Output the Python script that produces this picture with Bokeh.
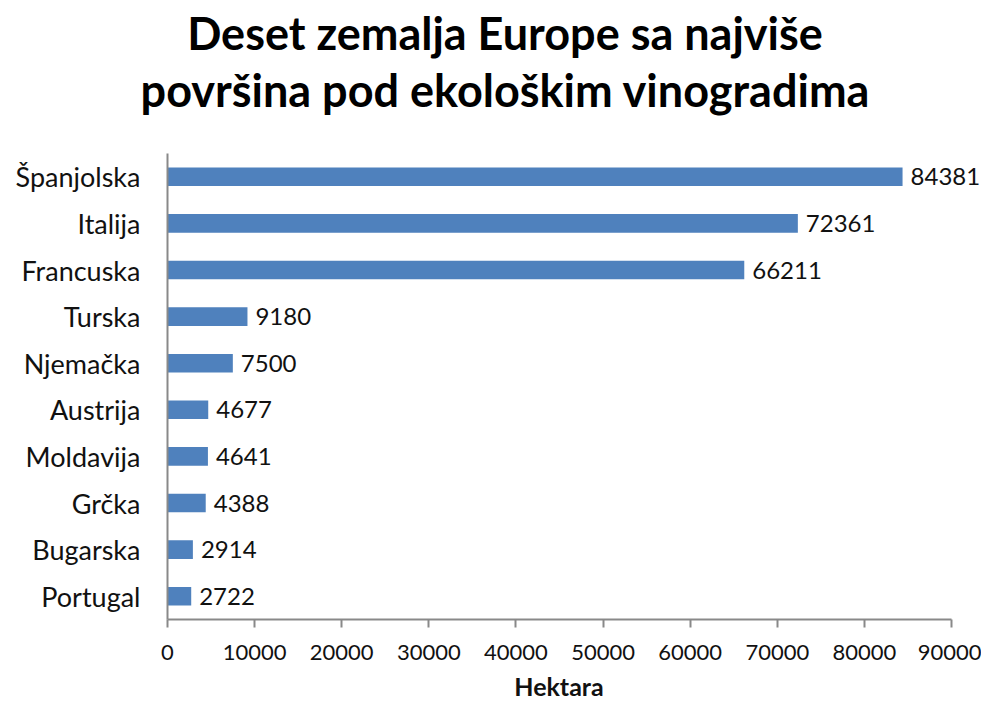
from bokeh.plotting import figure
from bokeh.models import (Range1d, FactorRange, LinearAxis, ColumnDataSource,
                          FixedTicker, LabelSet, Div)
from bokeh.layouts import column
from bokeh.core.properties import value
from bokeh.embed import file_html
from bokeh.resources import INLINE

# ---- data ----
countries = ["Španjolska", "Italija", "Francuska", "Turska", "Njemačka",
             "Austrija", "Moldavija", "Grčka", "Bugarska", "Portugal"]
hectares = [84381, 72361, 66211, 9180, 7500, 4677, 4641, 4388, 2914, 2722]
x_ticks = [0, 10000, 20000, 30000, 40000, 50000, 60000, 70000, 80000, 90000]
title_lines = ["Deset zemalja Europe sa najviše",
               "površina pod ekološkim vinogradima"]
x_label = "Hektara"

FONT = "Lato"
BAR = "#4f81bd"
AXIS = "#898989"
TXT = "#111111"

W = 981
H_TITLE, H_MAIN, H_XLAB = 130, 542, 24
FRAME_TOP, FRAME_BOTTOM = 153, 619
LEFT, RIGHT = 167, 951  # pixel positions of 0 and 90000
x_end = x_ticks[-1] * (W - LEFT) / (RIGHT - LEFT)

# ---- title ----
title_html = (
    '<div style="margin-left:29px;width:952px;text-align:center;'
    f'font-family:{FONT};font-weight:bold;font-size:45px;line-height:57px;'
    'color:#000000;padding-top:5px;white-space:nowrap">'
    + "<br>".join(title_lines) + "</div>")
title_div = Div(text=title_html, width=W, height=H_TITLE, margin=0)

# ---- main chart ----
src = ColumnDataSource(dict(cat=countries, val=hectares,
                            lbl=[str(v) for v in hectares]))

p = figure(width=W, height=H_MAIN,
           y_range=FactorRange(factors=countries[::-1]),
           x_range=Range1d(0, x_end), output_backend="svg",
           toolbar_location=None, x_axis_type=None, title=None,
           min_border_left=LEFT, min_border_right=0,
           min_border_top=FRAME_TOP - H_TITLE,
           min_border_bottom=H_TITLE + H_MAIN - FRAME_BOTTOM)
p.outline_line_color = None
p.background_fill_color = "white"
p.border_fill_color = "white"
p.xgrid.visible = False
p.ygrid.visible = False

p.hbar(y="cat", right="val", left=0, height=0.4, source=src,
       fill_color=BAR, line_color=None)

labels = LabelSet(x="val", y="cat", text="lbl", source=src, x_offset=8,
                  text_baseline="middle", text_align="left",
                  text_font=value(FONT), text_font_size="24px", text_color=TXT)
p.add_layout(labels)

xa = LinearAxis(ticker=FixedTicker(ticks=x_ticks), bounds=(0, x_ticks[-1]))
xa.axis_line_color = AXIS
xa.axis_line_width = 2
xa.major_tick_line_color = AXIS
xa.major_tick_line_width = 2
xa.major_tick_out = 8
xa.major_tick_in = 0
xa.minor_tick_line_color = None
xa.major_label_text_font = FONT
xa.major_label_text_font_size = "22px"
xa.major_label_text_color = TXT
xa.major_label_standoff = 17
p.add_layout(xa, "below")

ya = p.yaxis[0]
ya.axis_line_color = AXIS
ya.axis_line_width = 2
ya.major_tick_line_color = None
ya.minor_tick_line_color = None
ya.major_tick_out = 0
ya.major_tick_in = 0
ya.major_label_text_font = FONT
ya.major_label_text_font_size = "27px"
ya.major_label_text_color = TXT
ya.major_label_standoff = 27

# ---- x axis title ----
xlab_html = (
    '<div style="margin-left:137px;width:844px;text-align:center;'
    f'font-family:{FONT};font-weight:bold;font-size:25px;line-height:24px;'
    f'color:{TXT};padding-top:2px;white-space:nowrap">{x_label}</div>')
xlab_div = Div(text=xlab_html, width=W, height=H_XLAB, margin=0)

layout = column(title_div, p, xlab_div, spacing=0)
open("out.html", "w").write(file_html(layout, INLINE))
